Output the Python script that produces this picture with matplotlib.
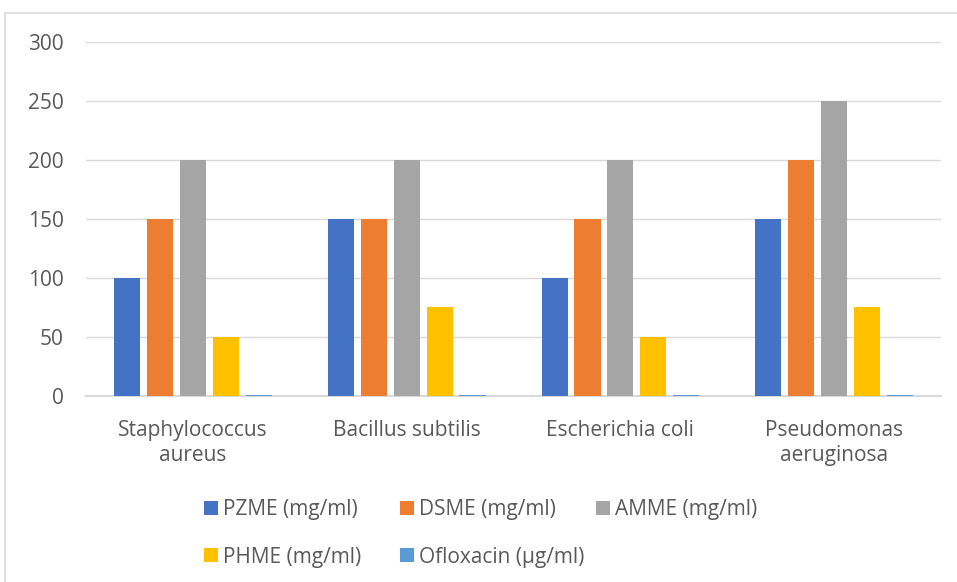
import matplotlib
matplotlib.use("Agg")
import matplotlib.pyplot as plt
import numpy as np
from matplotlib.patches import Rectangle

categories = ["Staphylococcus\naureus", "Bacillus subtilis", "Escherichia coli", "Pseudomonas\naeruginosa"]
series_names = ["PZME (mg/ml)", "DSME (mg/ml)", "AMME (mg/ml)", "PHME (mg/ml)", "Ofloxacin (µg/ml)"]
pzme = [100, 150, 100, 150]
dsme = [150, 150, 150, 200]
amme = [200, 200, 200, 250]
phme = [50, 75, 50, 75]
ofloxacin = [0.5, 0.5, 0.5, 0.5]
colors = ["#4472c4", "#ed7d31", "#a5a5a5", "#ffc000", "#5b9bd5"]

plt.rcParams['font.family'] = ['Open Sans', 'DejaVu Sans']
txt = "#595959"
grid = "#d9d9d9"
fs = 15

W, H = 957, 582
fig = plt.figure(figsize=(W / 100, H / 100), dpi=100)
ax = fig.add_axes([0.0899, 0.3196, 0.8934, 0.6082])

x = np.arange(len(categories))
step = 0.154
width = 0.122
bars = []
for i, vals in enumerate([pzme, dsme, amme, phme, ofloxacin]):
    b = ax.bar(x + (i - 2) * step, vals, width, color=colors[i], label=series_names[i], zorder=3)
    bars.append(b)

ax.set_xlim(-0.5, len(categories) - 0.5)
ax.set_ylim(0, 300)
ax.set_yticks(range(0, 301, 50))
ax.set_xticks(x)
ax.set_xticklabels(categories)
ax.yaxis.grid(True, color=grid, lw=1, zorder=0)
for s in ["top", "right", "left"]:
    ax.spines[s].set_visible(False)
ax.spines["bottom"].set_color(grid)
ax.spines["bottom"].set_linewidth(1.5)
ax.tick_params(axis="both", length=0, colors=txt, labelsize=fs)
ax.tick_params(axis="y", pad=16)
ax.tick_params(axis="x", pad=17)
for t in ax.get_xticklabels():
    t.set_linespacing(1.25)

# legend laid out like excel: fixed column width, wraps to a second row
leg_x = [204, 400, 596]
leg_y = [510, 557]
for i, b in enumerate(bars):
    r, c = divmod(i, 3)
    leg = fig.legend([b], [series_names[i]], loc="center left",
                     bbox_to_anchor=(leg_x[c] / W, 1 - leg_y[r] / H),
                     frameon=False, fontsize=fs, handlelength=0.65, handleheight=0.65,
                     handletextpad=0.25, borderpad=0, borderaxespad=0)
    for t in leg.get_texts():
        t.set_color(txt)

fig.patches.append(Rectangle((5 / W, -0.01), 1.0, 1 - 13 / H + 0.01, transform=fig.transFigure,
                             fill=False, edgecolor=grid, lw=1.2))

fig.savefig("out.png", dpi=100)
